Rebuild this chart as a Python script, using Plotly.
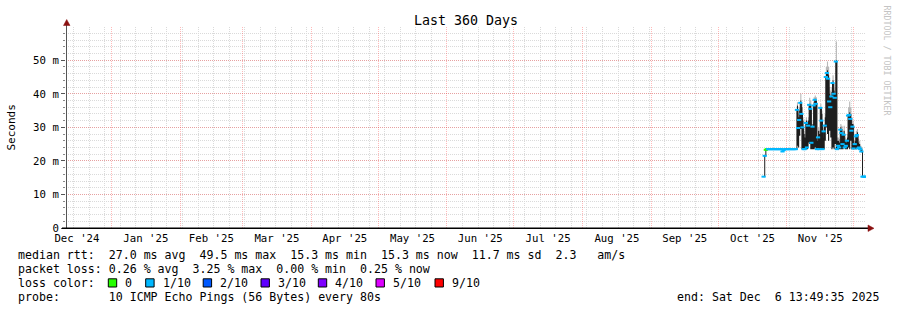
import pandas as pd
import plotly.graph_objects as go

# ---------------- data ----------------
TITLE = "Last 360 Days"
RANGE_START = "2024-12-11 13:49:35"
RANGE_END = "2025-12-06 13:49:35"
SAMPLE_START = "2025-10-21 12:00"   # first sample with data, 12 h steps
SAMPLE_STEP = "12h"

Y_TICK_VALS = [0, 10, 20, 30, 40, 50]
Y_TICK_TEXT = ["0", "10 m", "20 m", "30 m", "40 m", "50 m"]

# median rtt in ms (flat period before the spikes)
FLAT_MED = [15.3, 21.5, 23.3, 23.5,
            23.5, 23.5, 23.5, 23.5, 23.5, 23.5, 23.5, 23.5, 23.5, 23.5, 23.5, 23.5, 23.5,
            22.8, 23.2,
            23.5, 23.5, 23.5, 23.5, 23.5, 23.5, 23.5, 23.5, 23.5, 23.5, 23.5]
FLAT_LOSS = [1, 1, 0, 0] + [1] * 26

# spiky period: median, smoke low, smoke high, smoke top (ms)
SPIKE_MED = [35.2, 29.8, 32.2, 37.3, 34.0, 30.0, 23.5, 23.5, 31.3, 24.0,
             30.5, 36.7, 35.5, 25.4, 30.2, 36.5, 38.2, 37.0, 23.5, 27.0,
             23.5, 35.8, 32.0, 23.5, 28.8, 30.5, 45.0, 46.2, 44.5, 37.7,
             36.0, 39.2, 43.2, 40.0, 38.8, 49.6, 23.5, 24.5, 24.0, 29.3,
             28.3, 25.0, 27.8, 24.0, 24.5, 26.0, 33.5, 33.7, 32.5, 29.0,
             30.2, 23.7, 25.0, 27.3, 27.7, 23.7, 24.0, 23.5, 22.8, 15.3,
             15.3, 15.3, 15.3]
SPIKE_LO = [24.5, 24.0, 27.5, 29.5, 23.5, 23.5, 23.5, 23.5, 23.5, 23.5,
            25.5, 25.0, 23.5, 23.5, 23.5, 23.5, 24.0, 23.5, 23.5, 23.5,
            23.5, 23.5, 23.5, 23.5, 23.5, 26.0, 30.0, 28.0, 26.0, 29.0,
            27.0, 23.5, 24.0, 23.5, 25.0, 23.5, 23.5, 23.5, 23.5, 23.5,
            23.5, 23.5, 24.0, 23.5, 23.5, 23.5, 24.0, 23.5, 26.0, 23.5,
            23.5, 23.5, 23.5, 23.5, 24.0, 23.5, 23.5, 23.0, 22.5, 15.3,
            15.3, 15.3, 15.3]
SPIKE_HI = [36.5, 33.0, 35.0, 38.0, 36.0, 32.0, 28.0, 27.0, 32.0, 31.0,
            32.0, 37.0, 36.5, 30.0, 31.0, 37.5, 38.5, 38.0, 26.0, 29.0,
            28.0, 36.0, 34.0, 27.0, 30.0, 33.0, 46.0, 47.0, 45.5, 40.0,
            39.0, 40.5, 44.0, 41.0, 40.0, 50.0, 26.0, 26.0, 25.5, 30.0,
            29.5, 28.0, 29.0, 26.0, 25.5, 27.0, 34.0, 34.5, 34.0, 31.0,
            31.0, 25.0, 26.0, 28.0, 28.5, 25.5, 25.0, 24.0, 23.5, 15.3,
            15.3, 15.3, 15.3]
SPIKE_TOP = [37.5, 34.0, 36.0, 40.0, 37.0, 33.0, 29.0, 28.0, 33.0, 32.0,
             33.0, 38.8, 38.0, 31.0, 32.0, 39.0, 39.5, 39.0, 27.0, 30.0,
             29.0, 37.0, 35.0, 28.0, 31.0, 34.0, 48.0, 49.6, 48.0, 42.0,
             41.0, 42.0, 45.5, 43.0, 42.0, 55.6, 27.0, 27.0, 26.5, 31.0,
             30.5, 29.0, 30.5, 27.0, 26.5, 28.0, 36.0, 37.7, 36.0, 33.0,
             32.0, 26.0, 27.0, 29.0, 29.5, 26.5, 26.0, 24.5, 24.0, 15.3,
             15.3, 15.3, 15.3]
SPIKE_LOSS = [1] * 63

LOSS_LABELS = ["0", "1/10", "2/10", "3/10", "4/10", "5/10", "9/10"]
LOSS_COLORS = ["#26ff00", "#00b8ff", "#0059ff", "#5e00ff", "#7e00ff", "#dd00ff", "#ff0000"]

LEGEND_RTT = "median rtt:  27.0 ms avg  49.5 ms max  15.3 ms min  15.3 ms now  11.7 ms sd  2.3   am/s"
LEGEND_LOSS = "packet loss: 0.26 % avg  3.25 % max  0.00 % min  0.25 % now"
LEGEND_LOSSCOL = "loss color:"
LEGEND_PROBE = "probe:       10 ICMP Echo Pings (56 Bytes) every 80s"
LEGEND_END = "end: Sat Dec  6 13:49:35 2025"
WATERMARK = "RRDTOOL / TOBI OETIKER"

# ---------------- layout geometry ----------------
W, H = 897, 310
ML, MR, MT, MB = 66, 31, 27, 82
PW, PH = W - ML - MR, H - MT - MB
MONO = "DejaVu Sans Mono"


def px(x):
    return (x - ML) / PW


def py(y):
    return (H - MB - y) / PH


def nb(s):
    return s.replace(" ", "\u00a0")


times = pd.date_range(SAMPLE_START, periods=len(FLAT_MED) + len(SPIKE_MED), freq=SAMPLE_STEP)
t_flat = times[:len(FLAT_MED)]
t_spike = times[len(FLAT_MED):]
all_med = FLAT_MED + SPIKE_MED
all_loss = FLAT_LOSS + SPIKE_LOSS

fig = go.Figure()

# light smoke
fig.add_trace(go.Scatter(x=t_spike, y=SPIKE_HI, mode="lines", line=dict(width=0, shape="hv"),
                         showlegend=False, hoverinfo="skip"))
fig.add_trace(go.Scatter(x=t_spike, y=SPIKE_TOP, mode="lines", line=dict(width=0, shape="hv"),
                         fill="tonexty", fillcolor="#b8b8b8", showlegend=False, hoverinfo="skip"))
# dark smoke
fig.add_trace(go.Scatter(x=t_spike, y=SPIKE_LO, mode="lines", line=dict(width=0, shape="hv"),
                         showlegend=False, hoverinfo="skip"))
fig.add_trace(go.Scatter(x=t_spike, y=SPIKE_HI, mode="lines", line=dict(width=0, shape="hv"),
                         fill="tonexty", fillcolor="#1e1e1e", showlegend=False, hoverinfo="skip"))
# median connection
fig.add_trace(go.Scatter(x=times, y=all_med, mode="lines", line=dict(width=1, color="#1e1e1e", shape="hv"),
                         showlegend=False, hoverinfo="skip"))
# median coloured by loss
fig.add_trace(go.Scatter(x=times, y=all_med, mode="markers",
                         marker=dict(symbol="line-ew", size=3,
                                     line=dict(width=2, color=[LOSS_COLORS[l] for l in all_loss])),
                         showlegend=False, hoverinfo="skip"))

grid_gray = "#dadada"
grid_red = "rgba(255,40,40,0.32)"
dash = "1px,1px"

fig.update_layout(
    width=W, height=H, margin=dict(l=ML, r=MR, t=MT, b=MB),
    paper_bgcolor="white", plot_bgcolor="white",
    font=dict(family=MONO, size=10.7, color="#000"),
    showlegend=False,
    title=dict(text=TITLE, x=0.5, xref="paper", xanchor="center", y=1 - 20 / H, yanchor="middle",
               font=dict(family=MONO, size=13.3, color="#000")),
    xaxis=dict(
        type="date", range=[RANGE_START, RANGE_END],
        dtick="M1", tick0="2024-12-01", ticklabelmode="period", tickformat="%b '%y",
        showgrid=True, gridcolor=grid_red, griddash=dash, gridwidth=1,
        ticks="", showline=False, zeroline=False, ticklabelstandoff=2,
        tickfont=dict(family=MONO, size=10.7, color="#000"),
        minor=dict(dtick=7 * 24 * 3600 * 1000, tick0="2024-12-15", showgrid=True,
                   gridcolor=grid_gray, griddash=dash, gridwidth=1),
        fixedrange=True,
    ),
    yaxis=dict(
        range=[0, 59.9], tickvals=Y_TICK_VALS, ticktext=Y_TICK_TEXT,
        showgrid=True, gridcolor=grid_red, griddash=dash, gridwidth=1,
        ticks="outside", ticklen=4, tickcolor="#555", showline=False, zeroline=False,
        tickfont=dict(family=MONO, size=10.7, color="#000"),
        minor=dict(dtick=2, showgrid=True, gridcolor=grid_gray, griddash=dash, gridwidth=1,
                   ticks="outside", ticklen=2, tickcolor="#888"),
        fixedrange=True,
    ),
)

shapes = []
# y axis line and x axis line
shapes.append(dict(type="line", xref="paper", yref="paper", x0=px(66.5), x1=px(66.5), y0=py(228), y1=py(24),
                   line=dict(color="#555", width=1)))
shapes.append(dict(type="line", xref="paper", yref="paper", x0=px(62), x1=px(869), y0=py(228.3), y1=py(228.3),
                   line=dict(color="#000", width=1.5)))
# arrows
arrow = "#8a1010"
shapes.append(dict(type="path", xref="paper", yref="paper",
                   path=f"M {px(63.5)} {py(25.5)} L {px(70)} {py(25.5)} L {px(66.7)} {py(19.5)} Z",
                   fillcolor=arrow, line=dict(color=arrow, width=0.5)))
shapes.append(dict(type="path", xref="paper", yref="paper",
                   path=f"M {px(868)} {py(225)} L {px(868)} {py(231.5)} L {px(874)} {py(228.3)} Z",
                   fillcolor=arrow, line=dict(color=arrow, width=0.5)))

annotations = []


def text_at(x, y, s, size=11.6, anchor="left", color="#000", angle=0):
    annotations.append(dict(text=nb(s), x=px(x), y=py(y), xref="paper", yref="paper",
                            xanchor=anchor, yanchor="middle", showarrow=False, textangle=angle,
                            font=dict(family=MONO, size=size, color=color)))


text_at(16, 254.5, LEGEND_RTT)
text_at(16, 268.5, LEGEND_LOSS)
text_at(16, 282.7, LEGEND_LOSSCOL)
text_at(16, 296.6, LEGEND_PROBE)
text_at(880.5, 296.6, LEGEND_END, anchor="right")

box_x = [108.3, 145.7, 203.2, 261.0, 318.3, 376.0, 435.0]
label_x = [123.3, 160.7, 218.3, 276.0, 333.3, 391.0, 450.0]
for bx, lx, lab, col in zip(box_x, label_x, LOSS_LABELS, LOSS_COLORS):
    shapes.append(dict(type="rect", xref="paper", yref="paper", x0=px(bx), x1=px(bx + 8.4),
                       y0=py(287), y1=py(278.8), fillcolor=col, line=dict(color="#000", width=1)))
    text_at(lx, 282.7, lab)

# y axis title
text_at(11, 127.5, "Seconds", size=11, anchor="center", angle=-90)
# watermark
annotations.append(dict(text=nb(WATERMARK), x=px(886.5), y=py(60), xref="paper", yref="paper",
                        xanchor="center", yanchor="middle", showarrow=False, textangle=90,
                        font=dict(family=MONO, size=8.3, color="#c4c4c4")))

fig.update_layout(shapes=shapes, annotations=annotations)
fig.write_html("out.html")
